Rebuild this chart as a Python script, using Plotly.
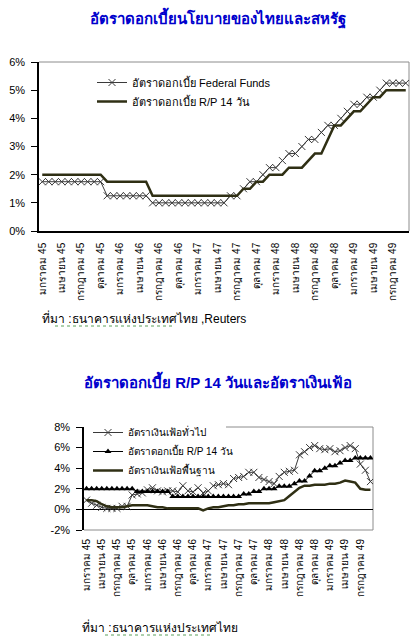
import plotly.graph_objects as go

# ---------------- data ----------------
month_names = ["มกราคม", "กุมภาพันธ์", "มีนาคม", "เมษายน", "พฤษภาคม", "มิถุนายน",
               "กรกฎาคม", "สิงหาคม", "กันยายน", "ตุลาคม", "พฤศจิกายน", "ธันวาคม"]
years_be = [45, 46, 47, 48, 49]
categories = [f"{m} {y}" for y in years_be for m in month_names][:57]  # ม.ค. 45 - ก.ย. 49
tick_labels = categories[::3]

fed_funds = [1.75]*10 + [1.25]*7 + [1.00]*12 + \
    [1.25, 1.25, 1.5, 1.75, 1.75, 2.0, 2.25,
     2.25, 2.5, 2.75, 2.75, 3.0, 3.25, 3.25, 3.5, 3.75, 3.75, 4.0, 4.25,
     4.5, 4.5, 4.75, 4.75, 5.0, 5.25, 5.25, 5.25, 5.25]
rp14 = [2.0]*10 + [1.75]*7 + [1.25]*14 + \
    [1.5, 1.5, 1.75, 1.75, 2.0, 2.0, 2.0, 2.25, 2.25, 2.25, 2.5, 2.75, 2.75,
     3.25, 3.75, 3.75, 4.0, 4.25, 4.25, 4.5, 4.75, 4.75, 5.0, 5.0, 5.0, 5.0]
headline = [0.9, 0.6, 0.4, 0.2, 0.1, 0.1, 0.1, 0.3, 0.3, 1.4, 1.5, 1.6,
            1.9, 2.1, 1.8, 1.7, 1.8, 1.8, 1.7, 2.3, 1.8, 1.7, 2.1, 1.6,
            1.8, 2.3, 2.4, 2.5, 2.4, 3.0, 3.1, 3.2, 3.6, 3.6, 3.1, 2.9,
            2.7, 2.5, 3.2, 3.6, 3.7, 3.8, 5.3, 5.6, 6.0, 6.2, 5.9, 5.8,
            5.9, 5.6, 5.7, 6.0, 6.2, 5.9, 4.4, 3.8, 2.7]
core = [0.9, 0.9, 0.8, 0.5, 0.3, 0.2, 0.2, 0.2, 0.3, 0.4, 0.4, 0.4,
        0.4, 0.3, 0.2, 0.2, 0.1, 0.1, 0.1, 0.1, 0.1, 0.1, 0.1, -0.1,
        0.1, 0.2, 0.2, 0.3, 0.4, 0.4, 0.5, 0.5, 0.6, 0.6, 0.6, 0.6,
        0.6, 0.7, 0.8, 0.9, 1.3, 1.7, 2.1, 2.3, 2.3, 2.4, 2.4, 2.4,
        2.5, 2.5, 2.6, 2.8, 2.7, 2.6, 2.0, 1.9, 1.9]

title1 = "อัตราดอกเบี้ยนโยบายของไทยและสหรัฐ"
title2 = "อัตราดอกเบี้ย R/P 14 วันและอัตราเงินเฟ้อ"
source1 = "ที่มา :ธนาคารแห่งประเทศไทย ,Reuters"
source2 = "ที่มา :ธนาคารแห่งประเทศไทย"

# ---------------- layout helpers ----------------
W, H = 420, 638
def px(x): return x / W
def py(y): return 1 - y / H

FONT = "Liberation Sans, Arial, Tahoma, sans-serif"
OLIVE = "#2f2f14"
BORDER = "#8c8c8c"

fig = go.Figure()

# Chart 1
fig.add_trace(go.Scatter(x=categories, y=fed_funds, name="อัตราดอกเบี้ย Federal Funds",
                         mode="lines+markers", xaxis="x", yaxis="y", legend="legend",
                         line=dict(color="#3a3a3a", width=1),
                         marker=dict(symbol="x-thin", size=7, line=dict(width=1, color="#3a3a3a"))))
fig.add_trace(go.Scatter(x=categories, y=rp14, name="อัตราดอกเบี้ย R/P 14 วัน",
                         mode="lines", xaxis="x", yaxis="y", legend="legend",
                         line=dict(color=OLIVE, width=2.5)))

# Chart 2
fig.add_trace(go.Scatter(x=categories, y=headline, name="อัตราเงินเฟ้อทั่วไป",
                         mode="lines+markers", xaxis="x2", yaxis="y2", legend="legend2",
                         line=dict(color="#3a3a3a", width=1),
                         marker=dict(symbol="x-thin", size=7, line=dict(width=1, color="#3a3a3a"))))
fig.add_trace(go.Scatter(x=categories, y=rp14, name="อัตราดอกเบี้ย R/P 14 วัน",
                         mode="lines+markers", xaxis="x2", yaxis="y2", legend="legend2",
                         line=dict(color="#000000", width=1),
                         marker=dict(symbol="triangle-up", size=6, color="#000000")))
fig.add_trace(go.Scatter(x=categories, y=core, name="อัตราเงินเฟ้อพื้นฐาน",
                         mode="lines", xaxis="x2", yaxis="y2", legend="legend2",
                         line=dict(color=OLIVE, width=2.5)))

xcommon = dict(type="category", range=[-0.5, len(categories) - 0.5],
               tickmode="array", tickvals=tick_labels, ticktext=tick_labels,
               tickangle=-90, showgrid=False, zeroline=False, ticks="",
               tickfont=dict(family=FONT, size=10, color="#000"),
               ticklabelstandoff=6)

def ann(text, x, y, size, color="#000", xanchor="center", bold=False):
    return dict(text=f"<b>{text}</b>" if bold else text, x=px(x), y=py(y),
                xref="paper", yref="paper", xanchor=xanchor, yanchor="middle",
                showarrow=False, font=dict(family=FONT, size=size, color=color))

fig.update_layout(
    width=W, height=H, margin=dict(l=0, r=0, t=0, b=0, autoexpand=False),
    paper_bgcolor="white", plot_bgcolor="white", showlegend=True,
    font=dict(family=FONT, color="#000"),
    xaxis=dict(domain=[px(39), px(409)], anchor="y",
               showline=True, linecolor="#000", linewidth=1.5, **xcommon),
    yaxis=dict(domain=[py(231), py(62)], anchor="x", range=[0, 6],
               tickvals=[0, 1, 2, 3, 4, 5, 6], ticktext=["0%", "1%", "2%", "3%", "4%", "5%", "6%"],
               showgrid=False, zeroline=False, showline=True, linecolor="#000", linewidth=1.5,
               ticks="outside", ticklen=6, tickcolor="#000", tickwidth=1,
               tickfont=dict(family=FONT, size=11), ticklabelstandoff=4),
    xaxis2=dict(domain=[px(84), px(373)], anchor="y2",
                showline=False, **xcommon),
    yaxis2=dict(domain=[py(530), py(427)], anchor="x2", range=[-2, 8],
                tickvals=[-2, 0, 2, 4, 6, 8], ticktext=["-2%", "0%", "2%", "4%", "6%", "8%"],
                showgrid=False, zeroline=True, zerolinecolor="#000", zerolinewidth=1.2,
                showline=True, linecolor="#000", linewidth=1.5,
                ticks="outside", ticklen=6, tickcolor="#000", tickwidth=1,
                tickfont=dict(family=FONT, size=11), ticklabelstandoff=4),
    legend=dict(x=px(92), y=py(68), xanchor="left", yanchor="top",
                bgcolor="rgba(255,255,255,0)", borderwidth=0,
                font=dict(family=FONT, size=11), tracegroupgap=0, itemwidth=30),
    legend2=dict(x=px(88), y=py(418), xanchor="left", yanchor="top",
                 bgcolor="rgba(255,255,255,0)", borderwidth=0,
                 font=dict(family=FONT, size=10), tracegroupgap=0, itemwidth=30),
    shapes=[
        # chart 1 plot-area frame (top and right)
        dict(type="line", xref="paper", yref="paper", x0=px(39), x1=px(409), y0=py(62), y1=py(62),
             line=dict(color=BORDER, width=1), layer="below"),
        dict(type="line", xref="paper", yref="paper", x0=px(409), x1=px(409), y0=py(62), y1=py(231),
             line=dict(color=BORDER, width=1), layer="below"),
        # chart 2 plot-area frame (top partly hidden by legend, right, bottom)
        dict(type="line", xref="paper", yref="paper", x0=px(226), x1=px(373), y0=py(427), y1=py(427),
             line=dict(color=BORDER, width=1), layer="below"),
        dict(type="line", xref="paper", yref="paper", x0=px(373), x1=px(373), y0=py(427), y1=py(530),
             line=dict(color=BORDER, width=1), layer="below"),
        dict(type="line", xref="paper", yref="paper", x0=px(84), x1=px(373), y0=py(530), y1=py(530),
             line=dict(color=BORDER, width=1), layer="below"),
        # spell-check squiggles under the source text
        dict(type="line", xref="paper", yref="paper", x0=px(55), x1=px(172), y0=py(326), y1=py(326),
             line=dict(color="#5aa05a", width=1, dash="dot")),
        dict(type="line", xref="paper", yref="paper", x0=px(105), x1=px(212), y0=py(635), y1=py(635),
             line=dict(color="#5aa05a", width=1, dash="dot")),
    ],
    annotations=[
        ann(title1, 218, 18, 15, "#0000cc", bold=True),
        ann(title2, 218, 381, 15, "#0000cc", bold=True),
        ann(source1, 40, 318, 12, xanchor="left"),
        ann(source2, 80, 627, 12, xanchor="left"),
    ],
)

fig.write_html("out.html")
